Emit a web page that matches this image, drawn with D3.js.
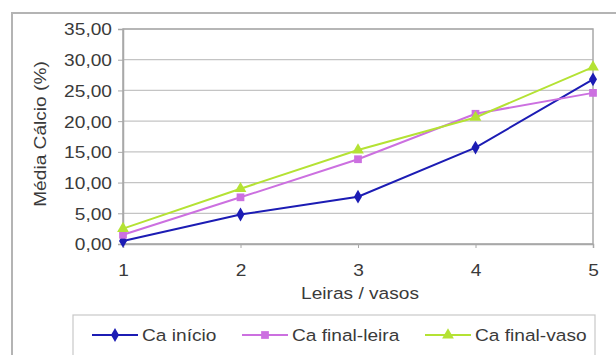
<!DOCTYPE html>
<html>
<head>
<meta charset="utf-8">
<script src="https://cdn.jsdelivr.net/npm/d3@7"></script>
<style>
  body { margin: 0; background: #fff; }
  text { font-family: "Liberation Sans", Arial, sans-serif; fill: #3a3a3a; }
</style>
</head>
<body>
<div class="chart"></div>
<script>
// data
var categories = [1, 2, 3, 4, 5];
var caInicio = [0.5, 4.8, 7.7, 15.7, 26.8];
var caFinalLeira = [1.5, 7.6, 13.8, 21.2, 24.6];
var caFinalVaso = [2.5, 9.0, 15.3, 20.6, 28.8];
var yTicks = [0, 5, 10, 15, 20, 25, 30, 35];
var seriesNames = ["Ca início", "Ca final-leira", "Ca final-vaso"];

var series = [
    { name: seriesNames[0], values: caInicio, color: "#1c1cb4", symbol: d3.symbolDiamond, size: 55 },
    { name: seriesNames[1], values: caFinalLeira, color: "#cc70e0", symbol: d3.symbolSquare, size: 60 },
    { name: seriesNames[2], values: caFinalVaso, color: "#b4e234", symbol: d3.symbolTriangle, size: 60 }
];

var W = 616, H = 355;
var margin = ({top: 29, right: 23, bottom: 111, left: 123});
var width = W - margin.left - margin.right,
    height = H - margin.top - margin.bottom;
var fs = 16.5, sx = 1.16;

var locale = d3.formatLocale({decimal: ",", thousands: ".", grouping: [3], currency: ["", ""]});
var fmt = locale.format(".2f");

var root = d3.select(".chart").append("svg")
    .attr("width", W)
    .attr("height", H);

// outer frame
root.append("path")
    .attr("d", "M12," + H + "V13H" + W)
    .attr("fill", "none")
    .attr("stroke", "#b4b4b4")
    .attr("stroke-width", 2);

var svg = root.append("g")
    .attr("transform", "translate(" + margin.left + "," + margin.top + ")");

const xScale = d3.scaleLinear()
    .domain([1, 5])
    .range([0, width]);

const yScale = d3.scaleLinear()
    .domain([0, 35])
    .range([height, 0]);

// gridlines
svg.append("g")
    .selectAll("line")
    .data(yTicks)
    .join("line")
    .attr("x1", 0)
    .attr("x2", width)
    .attr("y1", d => yScale(d))
    .attr("y2", d => yScale(d))
    .attr("stroke", "#c4c4c4")
    .attr("stroke-width", 1.2);

// plot border
svg.append("rect")
    .attr("width", width)
    .attr("height", height)
    .attr("fill", "none")
    .attr("stroke", "#a8a8a8")
    .attr("stroke-width", 1.5);

const yAxis = d3.axisLeft(yScale)
    .tickValues(yTicks)
    .tickSize(5)
    .tickFormat(fmt);

const gy = svg.append("g")
    .attr("class", "axis y-axis")
    .call(yAxis);
gy.select(".domain").attr("stroke", "#a8a8a8").attr("stroke-width", 1.5);
gy.selectAll(".tick line").attr("stroke", "#a8a8a8");
gy.selectAll(".tick text")
    .attr("x", -11 / sx)
    .attr("dy", "0.36em")
    .attr("transform", "scale(" + sx + ",1)")
    .style("font-size", fs + "px")
    .attr("font-family", null);

const xAxis = d3.axisBottom(xScale)
    .tickValues(categories)
    .tickSize(4)
    .tickFormat(d3.format("d"));

const gx = svg.append("g")
    .attr("class", "axis x-axis")
    .attr("transform", `translate(0, ${height})`)
    .call(xAxis);
gx.select(".domain").attr("stroke", "#a8a8a8").attr("stroke-width", 1.5);
gx.selectAll(".tick line").attr("stroke", "#a8a8a8");
gx.selectAll(".tick text")
    .attr("y", 26)
    .attr("dy", "0.36em")
    .attr("transform", "scale(" + sx + ",1)")
    .style("font-size", fs + "px")
    .attr("font-family", null);

// axis titles
svg.append("text")
    .attr("transform", `translate(${xScale(3) + 2}, ${height + 49}) scale(${sx},1)`)
    .attr("text-anchor", "middle")
    .attr("dy", "0.36em")
    .style("font-size", fs + "px")
    .text("Leiras / vasos");

root.append("text")
    .attr("transform", `translate(40, 134) rotate(-90) scale(${sx},1)`)
    .attr("text-anchor", "middle")
    .attr("dy", "0.36em")
    .style("font-size", fs + "px")
    .text("Média Cálcio (%)");

// lines and markers
var line = d3.line()
    .x((d, i) => xScale(categories[i]))
    .y(d => yScale(d));

series.forEach(function(s) {
    svg.append("path")
        .datum(s.values)
        .attr("fill", "none")
        .attr("stroke", s.color)
        .attr("stroke-width", 2)
        .attr("d", line);

    svg.append("g")
        .selectAll("path")
        .data(s.values)
        .join("path")
        .attr("transform", (d, i) => `translate(${xScale(categories[i])}, ${yScale(d)})`)
        .attr("d", d3.symbol().type(s.symbol).size(s.size))
        .attr("fill", s.color);
});

// legend
var legend = root.append("g");
legend.append("rect")
    .attr("x", 73)
    .attr("y", 315)
    .attr("width", 522)
    .attr("height", 60)
    .attr("fill", "#fff")
    .attr("stroke", "#c8c8c8")
    .attr("stroke-width", 1.2);

var legendX = [92, 242, 425];
series.forEach(function(s, i) {
    var g = legend.append("g").attr("transform", `translate(${legendX[i]}, 335)`);
    g.append("line")
        .attr("x1", 0).attr("x2", 46)
        .attr("stroke", s.color)
        .attr("stroke-width", 2);
    g.append("path")
        .attr("transform", "translate(23,0)")
        .attr("d", d3.symbol().type(s.symbol).size(s.size))
        .attr("fill", s.color);
    g.append("text")
        .attr("transform", `translate(50,0) scale(${sx},1)`)
        .attr("dy", "0.36em")
        .style("font-size", fs + "px")
        .text(s.name);
});
</script>
</body>
</html>
